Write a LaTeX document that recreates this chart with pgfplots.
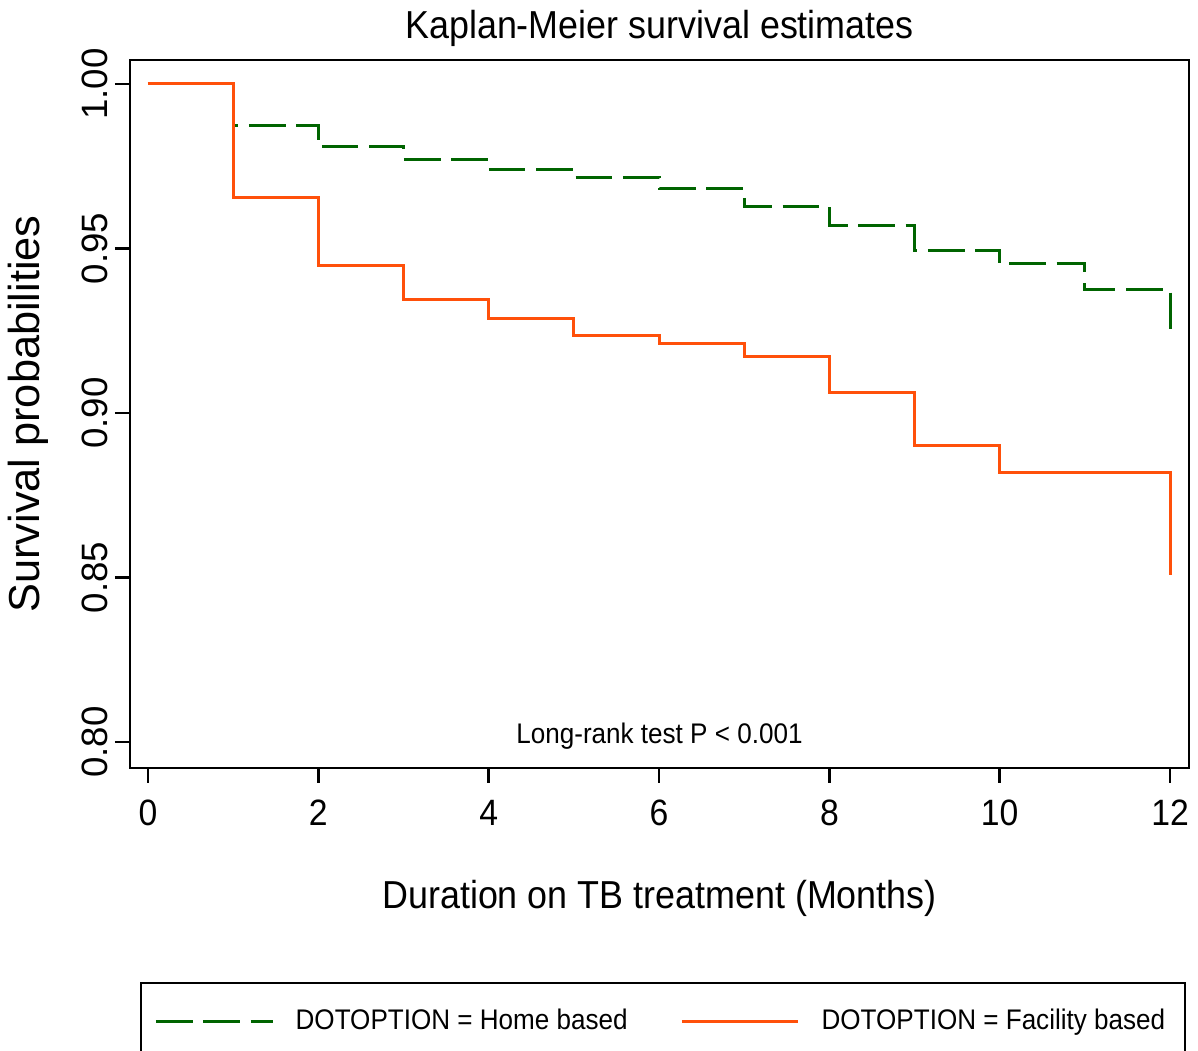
\documentclass[border=0pt]{standalone}
\usepackage{fontspec}
\setmainfont{Liberation Sans}[FakeStretch=0.92]
\newfontfamily\rotfont{Liberation Sans}
\usepackage{pgfplots}
\pgfplotsset{compat=1.18}

\definecolor{kmgreen}{RGB}{0,100,0}
\definecolor{kmorange}{RGB}{255,80,10}

% Kaplan-Meier step values (value holds from x_i to x_{i+1})
\pgfplotstableread{
t    s
0    1.0000
1    0.9875
2    0.9809
3    0.9771
4    0.9741
5    0.9717
6    0.9683
7    0.9627
8    0.9569
9    0.9493
10   0.9453
11   0.9376
12   0.9252
}\homebased
\pgfplotstableread{
t    s
0    1.0000
1    0.9654
2    0.9447
3    0.9344
4    0.9288
5    0.9236
6    0.9210
7    0.9171
8    0.9062
9    0.8900
10   0.8819
11   0.8819
12   0.8508
}\facilitybased

\begin{document}
\begin{tikzpicture}
\begin{axis}[
    at={(0,0)}, anchor=south west,
    scale only axis,
    width=317.7pt, height=212.4pt,
    xmin=-0.2113, xmax=12.222,
    ymin=0.7921, ymax=1.00729,
    xtick={0,2,4,6,8,10,12},
    ytick={0.80,0.85,0.90,0.95,1.00},
    /pgf/number format/assume math mode=true,
    yticklabel={\pgfmathprintnumber[fixed,fixed zerofill,precision=2]{\tick}},
    tick align=outside,
    major tick length=4.5pt,
    xtick pos=bottom, ytick pos=left,
    axis line style={line width=0.8pt},
    tick style={line width=0.8pt, black},
    tick label style={font=\fontsize{11}{13}\selectfont},
    xticklabel style={inner sep=5pt},
    yticklabel style={rotate=90, anchor=south, inner sep=2pt, font=\rotfont\fontsize{11}{13}\selectfont},
    every axis title shift=0pt,
    title={Kaplan-Meier survival estimates},
    title style={at={(axis description cs:0.5,1.0452)}, anchor=center, font=\fontsize{11.7}{14}\selectfont},
    xlabel={Duration on TB treatment (Months)},
    xlabel style={at={(axis description cs:0.5,-0.1836)}, anchor=center, font=\fontsize{11.7}{14}\selectfont},
    ylabel={Survival probabilities},
    ylabel style={at={(axis description cs:-0.0963,0.5)}, anchor=center, font=\rotfont\fontsize{13}{15}\selectfont},
    legend columns=2,
    legend cell align=left,
    legend image code/.code={\draw[#1] (0pt,0pt) -- (35pt,0pt);},
    legend style={
        at={(axis description cs:0.00944,-0.3023)}, anchor=north west,
        draw=black, line width=0.6pt,
        inner xsep=4pt, inner ysep=5.8pt,
        font=\fontsize{8.5}{10}\selectfont,
        /tikz/every odd column/.append style={column sep=4.5pt},
        /tikz/every even column/.append style={column sep=13.8pt},
    },
    clip=false,
]
\addplot[const plot, kmgreen, line width=0.9pt, dash pattern=on 11pt off 3.2pt]
    table[x=t, y=s] {\homebased};
\addlegendentry{DOTOPTION = Home based}
\addplot[const plot, kmorange, line width=0.9pt]
    table[x=t, y=s] {\facilitybased};
\addlegendentry{DOTOPTION = Facility based}

\node[anchor=center, font=\fontsize{8.5}{10}\selectfont]
    at (axis description cs:0.5,0.0452) {Long-rank test P < 0.001};
\end{axis}
\pgfresetboundingbox
\path[use as bounding box] (-39pt,-84.9pt) rectangle (320.4pt,230.4pt);
\end{tikzpicture}
\end{document}
